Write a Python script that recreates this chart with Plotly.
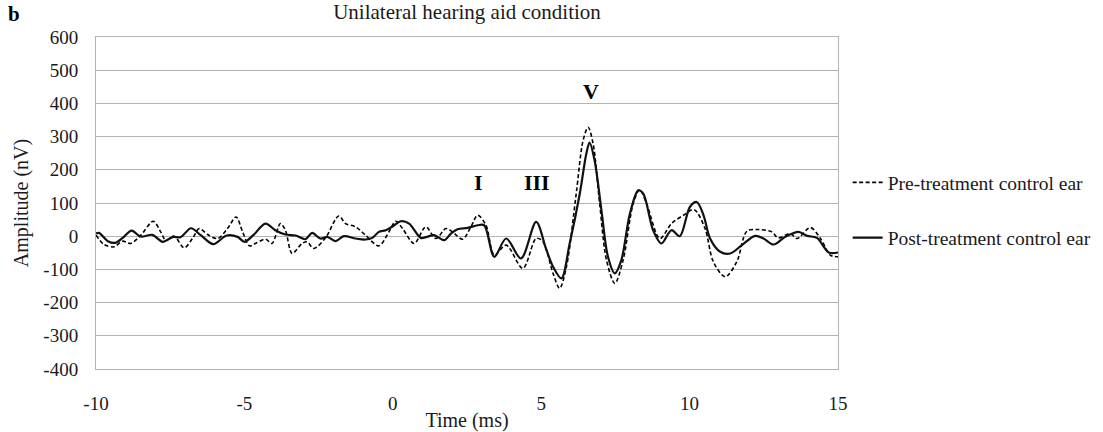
import plotly.graph_objects as go

# ---- data ----
post_time = [-10.0, -9.9, -9.6, -9.35, -9.1, -8.8, -8.5, -8.1, -7.75, -7.4, -7.15, -6.8, -6.47, -6.05,
             -5.6, -5.23, -5.0, -4.7, -4.29, -3.96, -3.62, -3.28, -2.94, -2.72, -2.44, -2.21, -1.93,
             -1.65, -1.25, -0.92, -0.69, -0.47, -0.24, 0.0, 0.27, 0.55, 0.94, 1.15, 1.39, 1.73, 1.96,
             2.18, 2.52, 2.86, 3.08, 3.42, 3.82, 4.32, 4.83, 5.17, 5.40, 5.68, 5.96, 6.30, 6.52, 6.63,
             6.80, 7.03, 7.25, 7.48, 7.70, 7.99, 8.27, 8.44, 8.77, 9.05, 9.39, 9.67, 10.01, 10.24,
             10.47, 10.69, 11.03, 11.37, 11.76, 12.21, 12.49, 12.83, 13.22, 13.67, 13.96, 14.29,
             14.69, 15.0]
post_amp = [8, 10, -15, -20, -5, 17, -1, 4, -17, -2, -3, 24, 3, -24,
            2, -2, -17, 3, 38, 18, 5, 2, -9, 10, -7, -2, -15,
            0, -7, -10, -5, 13, 18, 30, 45, 38, -5, -2, 3, -12, 8,
            21, 25, 33, 33, -62, -7, -67, 43, -40, -92, -127, -22, 128, 248, 282,
            228, 78, -62, -112, -72, 68, 138, 128, 18, -22, 18, 0, 88, 103,
            63, -7, -47, -52, -27, 1, -7, -25, -2, 13, 1, -5,
            -49, -49]

pre_time = [-10.0, -9.73, -9.39, -9.11, -8.83, -8.49, -8.07, -7.82, -7.65, -7.37, -7.03, -6.75, -6.52,
            -6.24, -5.90, -5.57, -5.28, -5.06, -4.83, -4.63, -4.29, -4.07, -3.79, -3.62, -3.39, -3.06,
            -2.89, -2.66, -2.27, -1.82, -1.59, -1.25, -0.92, -0.47, -0.13, 0.10, 0.33, 0.72, 1.11,
            1.45, 1.79, 2.01, 2.35, 2.63, 2.86, 3.14, 3.42, 3.82, 4.38, 4.83, 5.05, 5.40, 5.62, 5.85,
            6.18, 6.41, 6.58, 6.75, 6.97, 7.20, 7.48, 7.76, 8.10, 8.32, 8.55, 9.0, 9.39, 9.79, 10.15,
            10.52, 10.80, 11.20, 11.59, 11.93, 12.32, 12.77, 12.99, 13.39, 13.62, 14.07, 14.41,
            14.74, 15.0]
pre_amp = [3, -25, -32, -15, -22, 3, 45, 13, -12, 0, -35, -7, 23,
           5, -7, 23, 58, 13, -29, -22, -9, -22, 38, 18, -52, -22,
           -17, -37, -5, 61, 38, 28, 3, -29, 13, 45, 23, -22, 28,
           -7, 23, 13, -9, 28, 63, 33, -57, -27, -97, -7, -15, -112, -157, -92,
           128, 288, 328, 278, 98, -72, -142, -72, 98, 140, 98, -7, 38, 63, 80,
           23, -77, -122, -77, 15, 20, 13, -5, 8, -7, 26, -7,
           -57, -62]

x_ticks = [-10, -5, 0, 5, 10, 15]
x_tick_labels = ["-10", "-5", "0", "5", "10", "15"]
y_ticks = [-400, -300, -200, -100, 0, 100, 200, 300, 400, 500, 600]
y_tick_labels = ["-400", "-300", "-200", "-100", "0", "100", "200", "300", "400", "500", "600"]

wave_labels = ["I", "III", "V"]
wave_label_time = [2.9, 4.86, 6.69]
wave_label_amp = [162, 162, 437]

FONT = "Liberation Serif"
GRID = "#b3b3b3"
TXT = "#1a1a1a"

fig = go.Figure()
fig.add_trace(go.Scatter(
    x=pre_time, y=pre_amp, mode="lines", name="Pre-treatment control ear",
    line=dict(color="black", width=1.6, dash="4px,2.5px", shape="spline", smoothing=0.9),
    legendgroup="a"))
fig.add_trace(go.Scatter(
    x=post_time, y=post_amp, mode="lines", name="Post-treatment control ear",
    line=dict(color="#111111", width=2.2, shape="spline", smoothing=0.9),
    legendgroup="b"))

for lab, t, a in zip(wave_labels, wave_label_time, wave_label_amp):
    fig.add_annotation(x=t, y=a, text=f"<b>{lab}</b>", showarrow=False,
                       font=dict(family=FONT, size=22, color="black"))

fig.add_annotation(xref="paper", yref="paper", x=-0.1105, y=1.069, xanchor="center",
                   yanchor="middle", text="<b>b</b>",
                   showarrow=False, font=dict(family=FONT, size=21, color="black"))

fig.update_layout(
    width=1103, height=432,
    margin=dict(l=96, r=265, t=37, b=63, autoexpand=False),
    paper_bgcolor="white", plot_bgcolor="white",
    font=dict(family=FONT, size=19, color=TXT),
    title=dict(text="Unilateral hearing aid condition", x=0.5, xref="paper", xanchor="center",
               y=0.99, yanchor="top", font=dict(family=FONT, size=21, color=TXT)),
    showlegend=True,
    legend=dict(x=1.013, y=0.62, xanchor="left", yanchor="top", tracegroupgap=27,
                itemwidth=30, font=dict(family=FONT, size=19.5, color=TXT),
                bgcolor="rgba(0,0,0,0)"),
)
fig.update_xaxes(range=[-10, 15], tickvals=x_ticks, ticktext=x_tick_labels, showgrid=False,
                 zeroline=False, automargin=False,
                 showline=True, linecolor=GRID, linewidth=1, mirror=True,
                 ticks="", ticklabelstandoff=17, tickfont=dict(family=FONT, size=19, color=TXT),
                 title=dict(text="Time (ms)", standoff=2, font=dict(family=FONT, size=20, color=TXT)))
fig.update_yaxes(range=[-400, 600], tickvals=y_ticks, ticktext=y_tick_labels, showgrid=True,
                 gridcolor=GRID, automargin=False,
                 gridwidth=1, zeroline=False, showline=True, linecolor=GRID, linewidth=1,
                 mirror=True, ticks="", ticklabelstandoff=13,
                 tickfont=dict(family=FONT, size=19, color=TXT),
                 title=dict(text="Amplitude (nV)", standoff=9, font=dict(family=FONT, size=20, color=TXT)))

fig.write_html("out.html", config={"displayModeBar": False},
               post_script="document.body.style.margin='0';")
